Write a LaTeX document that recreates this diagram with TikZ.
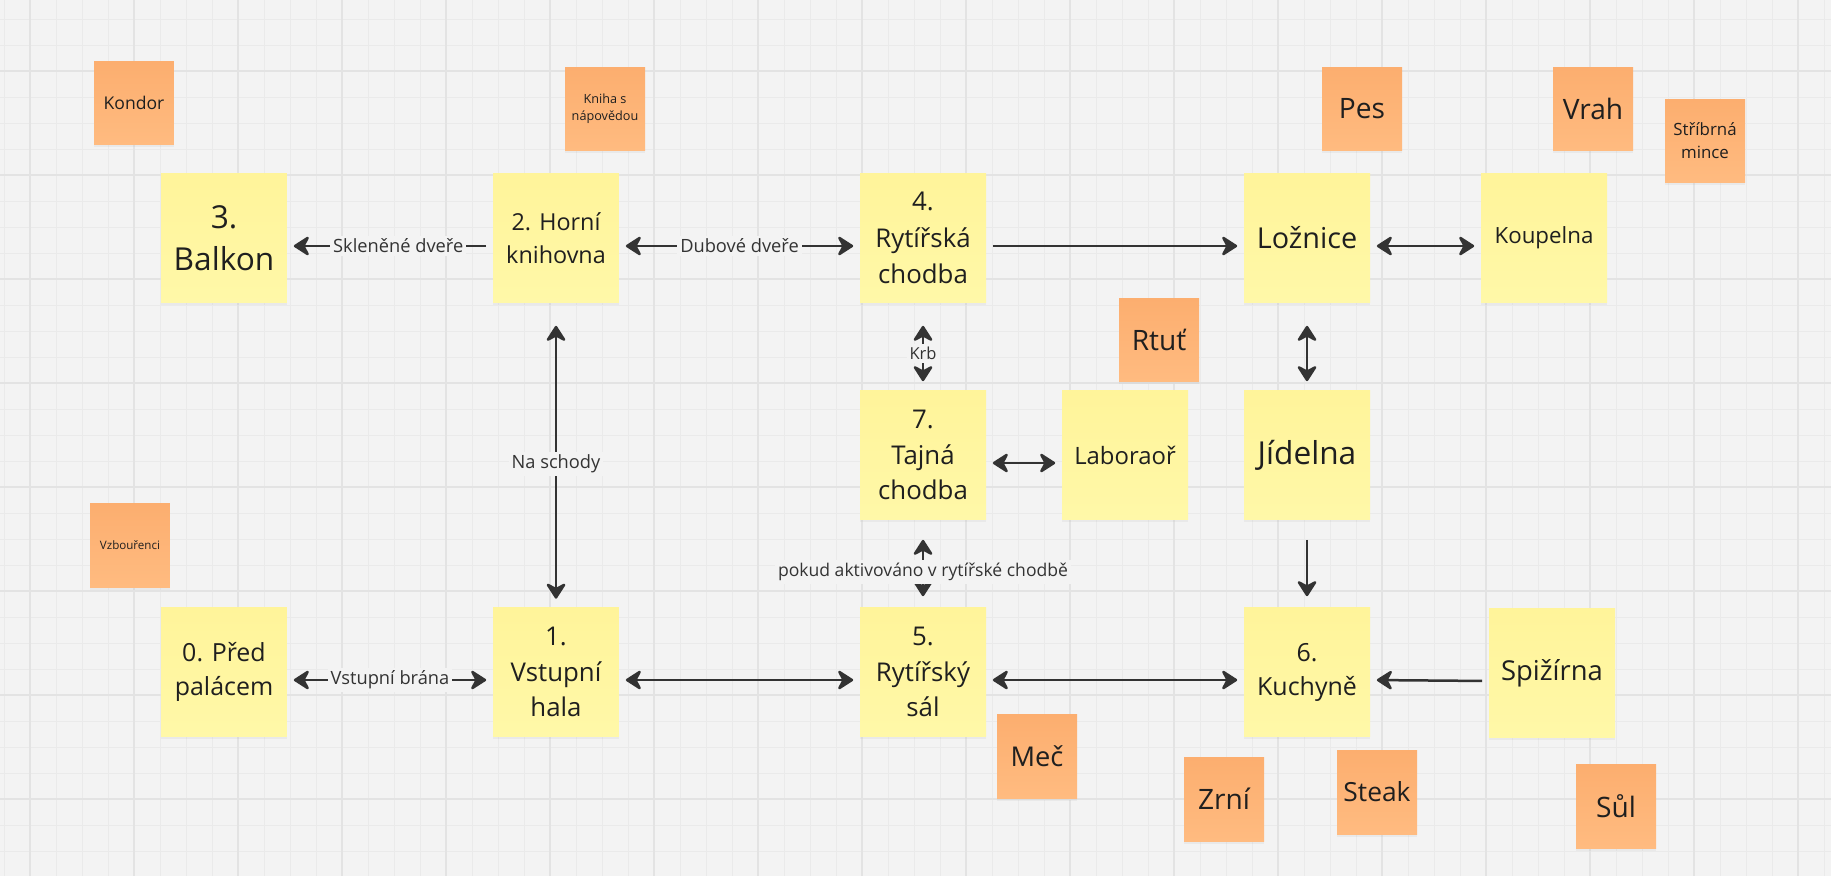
\documentclass[tikz,border=0pt]{standalone}
\usepackage{fontspec}
\setmainfont{Open Sans}
\usetikzlibrary{arrows.meta,shadows}

\definecolor{canvas}{HTML}{F3F3F3}
\definecolor{gridminor}{HTML}{EAEAEA}
\definecolor{gridmajor}{HTML}{E3E3E3}
\definecolor{yellowtop}{HTML}{FFF49A}
\definecolor{yellowbot}{HTML}{FFF8A8}
\definecolor{orangetop}{HTML}{FCAE6F}
\definecolor{orangebot}{HTML}{FFBB80}
\definecolor{ink}{HTML}{333333}

\tikzstyle{room} = [minimum width=2.52cm, minimum height=2.58cm, inner sep=0pt, align=center, text=black!88,
  top color=yellowtop, bottom color=yellowbot,
  drop shadow={shadow xshift=0cm, shadow yshift=-0.05cm, opacity=0.08}]
\tikzstyle{thing} = [minimum width=1.6cm, minimum height=1.68cm, inner sep=0pt, align=center, text=black!88,
  top color=orangetop, bottom color=orangebot,
  drop shadow={shadow xshift=0cm, shadow yshift=-0.05cm, opacity=0.08}]
\tikzstyle{pass} = [draw=ink, line width=0.05cm, shorten <=0.13cm, shorten >=0.13cm,
  >={Stealth[length=0.36cm, width=0.46cm, inset=0.12cm, round]}, ->]
\tikzstyle{door} = [fill=canvas, text=ink, inner sep=0.06cm, font=\fontsize{10.4}{12}\selectfont]

\begin{document}
\begin{tikzpicture}[x=0.02cm, y=-0.02cm]
\fill[canvas] (0,0) rectangle (1831,876);
\useasboundingbox (0,0) rectangle (1831,876);
\foreach \x in {4,30,...,1831} \draw[gridminor, line width=0.02cm] (\x,0) -- (\x,876);
\foreach \y in {19,45,...,876} \draw[gridminor, line width=0.02cm] (0,\y) -- (1831,\y);
\foreach \x in {30,134,...,1831} \draw[gridmajor, line width=0.035cm] (\x,0) -- (\x,876);
\foreach \y in {71,175,...,876} \draw[gridmajor, line width=0.035cm] (0,\y) -- (1831,\y);

\node[room, font=\fontsize{18}{23.6}\selectfont] (balkon) at (224,238) {3.\\Balkon};
\node[room, font=\fontsize{13.3}{18.5}\selectfont] (knihovna) at (556,238) {2. Horní\\knihovna};
\node[room, font=\fontsize{14.7}{20.8}\selectfont] (chodba) at (923,238) {4.\\Rytířská\\chodba};
\node[room, font=\fontsize{16.4}{20}\selectfont] (loznice) at (1307,238) {Ložnice};
\node[room, font=\fontsize{12.7}{16}\selectfont] (koupelna) at (1544,238) {Koupelna};
\node[room, font=\fontsize{14.7}{20.4}\selectfont] (tajna) at (923,455) {7.\\Tajná\\chodba};
\node[room, font=\fontsize{13.6}{17}\selectfont] (laborator) at (1125,455) {Laboraoř};
\node[room, font=\fontsize{18}{22}\selectfont] (jidelna) at (1307,455) {Jídelna};
\node[room, font=\fontsize{14.2}{19.8}\selectfont] (palac) at (224,672) {0. Před\\palácem};
\node[room, font=\fontsize{14.7}{20.4}\selectfont] (hala) at (556,672) {1.\\Vstupní\\hala};
\node[room, font=\fontsize{14.7}{20.4}\selectfont] (sal) at (923,672) {5.\\Rytířský\\sál};
\node[room, font=\fontsize{14.2}{19.3}\selectfont] (kuchyne) at (1307,672) {6.\\Kuchyně};
\node[room, font=\fontsize{15.6}{19}\selectfont] (spizirna) at (1552,673) {Spižírna};

\node[thing, font=\fontsize{10}{12}\selectfont] (kondor) at (134,103) {Kondor};
\node[thing, font=\fontsize{7.2}{9.6}\selectfont] (kniha) at (605,109) {Kniha s\\nápovědou};
\node[thing, font=\fontsize{16}{19}\selectfont] (pes) at (1362,109) {Pes};
\node[thing, font=\fontsize{16}{19}\selectfont] (vrah) at (1593,109) {Vrah};
\node[thing, font=\fontsize{9.6}{13}\selectfont] (mince) at (1705,141) {Stříbrná\\mince};
\node[thing, font=\fontsize{16}{19}\selectfont] (rtut) at (1159,340) {Rtuť};
\node[thing, font=\fontsize{6.6}{8}\selectfont] (vzbourenci) at (130,545) {Vzbouřenci};
\node[thing, font=\fontsize{15.5}{19}\selectfont] (mec) at (1037,756) {Meč};
\node[thing, font=\fontsize{16}{19}\selectfont] (zrni) at (1224,799) {Zrní};
\node[thing, font=\fontsize{15}{19}\selectfont] (steak) at (1377,792) {Steak};
\node[thing, font=\fontsize{16}{19}\selectfont] (sul) at (1616,806) {Sůl};

\draw[pass] ([yshift=-0.16cm]knihovna.west) -- node[door, pos=0.46] {Skleněné dveře} ([yshift=-0.16cm]balkon.east);
\draw[pass, <->] ([yshift=-0.16cm]knihovna.east) -- node[door] {Dubové dveře} ([yshift=-0.16cm]chodba.west);
\draw[pass] ([yshift=-0.16cm]chodba.east) -- ([yshift=-0.16cm]loznice.west);
\draw[pass, <->] ([yshift=-0.16cm]loznice.east) -- ([yshift=-0.16cm]koupelna.west);
\draw[pass, <->] ([yshift=-0.16cm]tajna.east) -- ([yshift=-0.16cm]laborator.west);
\draw[pass, <->] ([yshift=-0.16cm]palac.east) -- node[door] {Vstupní brána} ([yshift=-0.16cm]hala.west);
\draw[pass, <->] ([yshift=-0.16cm]hala.east) -- ([yshift=-0.16cm]sal.west);
\draw[pass, <->] ([yshift=-0.16cm]sal.east) -- ([yshift=-0.16cm]kuchyne.west);
\draw[pass] ([yshift=-0.16cm]spizirna.west) -- ([yshift=-0.16cm]kuchyne.east);

\draw[pass, <->, shorten <=0.46cm, shorten >=0.17cm] (knihovna.south) -- node[door, pos=0.53] {Na schody} (hala.north);
\draw[pass, <->, shorten <=0.46cm, shorten >=0.18cm] (chodba.south) -- node[door, pos=0.58, font=\fontsize{9.4}{11}\selectfont] {Krb} (tajna.north);
\draw[pass, <->, shorten <=0.46cm, shorten >=0.18cm] (loznice.south) -- (jidelna.north);
\draw[pass, <->, shorten <=0.4cm, shorten >=0.22cm] (tajna.south) -- node[door, pos=0.6, font=\fontsize{10}{12}\selectfont] {pokud aktivováno v rytířské chodbě} (sal.north);
\draw[pass, shorten <=0.4cm, shorten >=0.22cm] (jidelna.south) -- (kuchyne.north);
\end{tikzpicture}
\end{document}
